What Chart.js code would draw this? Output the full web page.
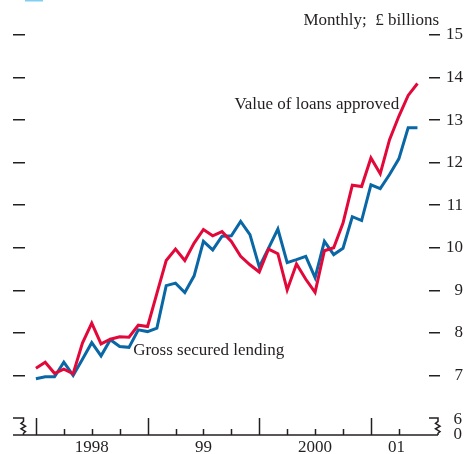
<!DOCTYPE html>
<html><head><meta charset="utf-8">
<script src="https://cdn.jsdelivr.net/npm/chart.js@4.4.1/dist/chart.umd.min.js"></script>
<style>html,body{margin:0;padding:0;background:#fff;}#wrap{width:467px;height:454px;}</style>
</head><body><div id="wrap"><canvas id="c" width="467" height="454"></canvas></div>
<script>
const months = [
 '1998-01','1998-02','1998-03','1998-04','1998-05','1998-06','1998-07','1998-08','1998-09','1998-10','1998-11','1998-12',
 '1999-01','1999-02','1999-03','1999-04','1999-05','1999-06','1999-07','1999-08','1999-09','1999-10','1999-11','1999-12',
 '2000-01','2000-02','2000-03','2000-04','2000-05','2000-06','2000-07','2000-08','2000-09','2000-10','2000-11','2000-12',
 '2001-01','2001-02','2001-03','2001-04','2001-05','2001-06'
];
const loansApproved = [7.17,7.31,7.05,7.15,7.04,7.76,8.23,7.74,7.85,7.91,7.90,8.18,
 8.15,8.93,9.70,9.97,9.70,10.11,10.43,10.28,10.38,10.15,9.80,9.60,
 9.43,9.97,9.86,9.01,9.62,9.26,8.95,9.93,10.00,10.58,11.47,11.44,
 12.11,11.74,12.54,13.09,13.58,13.86];
const grossLending = [6.92,6.97,6.97,7.31,7.00,7.38,7.77,7.46,7.84,7.68,7.66,8.07,
 8.03,8.11,9.11,9.17,8.95,9.34,10.15,9.95,10.27,10.28,10.62,10.31,
 9.55,9.99,10.44,9.65,9.72,9.80,9.30,10.15,9.84,9.99,10.73,10.64,
 11.48,11.39,11.72,12.09,12.82,12.82];
const yTickValues = [7,8,9,10,11,12,13,14,15];
const yearLabels = ['1998','99','2000','01'];
const yearStarts = [0,12,24,36];
const quarterTicks = [0,3,6,9,12,15,18,21,24,27,30,33,36,39];
const seriesNames = ['Value of loans approved','Gross secured lending'];
const unitLabel = 'Monthly;  \u00a3 billions';
const breakLabels = ['6','0'];

const FONT = "'Liberation Serif', 'Times New Roman', serif";
const INK = '#231f20';
const RED = '#e2083a';
const BLUE = '#0a67a6';

const decor = {
  id: 'decor',
  afterDraw(chart) {
    const ctx = chart.ctx, xs = chart.scales.x, ys = chart.scales.y, ca = chart.chartArea;
    const base = ys.getPixelForValue(ys.min);
    const six = ys.getPixelForValue(6);
    const left = chart.scales.yl.left, right = ca.right + 9;
    ctx.save();
    ctx.strokeStyle = INK; ctx.lineWidth = 1.5; ctx.lineJoin = 'miter';
    // axis line
    ctx.beginPath(); ctx.moveTo(left, base); ctx.lineTo(right, base); ctx.stroke();
    // quarter / year ticks
    quarterTicks.forEach(m => {
      const px = Math.round(xs.getPixelForValue(m)) + 0.5;
      const h = (m % 12 === 0) ? (base - six) : 6;
      ctx.beginPath(); ctx.moveTo(px, base); ctx.lineTo(px, base - h); ctx.stroke();
    });
    // axis breaks
    const zig = (x0, x1) => {
      ctx.beginPath();
      ctx.moveTo(x0, six); ctx.lineTo(x1, six);
      const h = base - six;
      ctx.lineTo(x1, six + h*0.2);
      ctx.lineTo(x1 - 2.5, six + h*0.32);
      ctx.lineTo(x1 + 2, six + h*0.48);
      ctx.lineTo(x1 - 2.5, six + h*0.64);
      ctx.lineTo(x1 + 2, six + h*0.8);
      ctx.lineTo(x1, six + h*0.9);
      ctx.lineTo(x1, base);
      ctx.stroke();
    };
    zig(left, left + 10.5);
    zig(ca.right, right);
    // text
    ctx.fillStyle = INK;
    ctx.font = '17px ' + FONT;
    ctx.textBaseline = 'middle';
    ctx.textAlign = 'right';
    ctx.fillText(breakLabels[0], 462, six + 2);
    ctx.fillText(breakLabels[1], 462, base);
    ctx.fillText(unitLabel, ca.right + 10, 20.5);
    ctx.textAlign = 'left';
    ctx.fillText(seriesNames[0], xs.getPixelForValue(21.33), ys.getPixelForValue(13.37));
    ctx.fillText(seriesNames[1], xs.getPixelForValue(10.45), ys.getPixelForValue(7.59));
    ctx.fillStyle = '#7fd0f0';
    ctx.fillRect(25, 0, 18, 1.5);
    ctx.restore();
  }
};

new Chart(document.getElementById('c'), {
  type: 'line',
  data: {
    datasets: [
      { label: seriesNames[0], data: months.map((m, i) => ({x: i, y: loansApproved[i]})),
        borderColor: RED, borderWidth: 3, pointRadius: 0, tension: 0, yAxisID: 'y' },
      { label: seriesNames[1], data: months.map((m, i) => ({x: i, y: grossLending[i]})),
        borderColor: BLUE, borderWidth: 3, pointRadius: 0, tension: 0, yAxisID: 'y' }
    ]
  },
  options: {
    responsive: false, animation: false, devicePixelRatio: 1,
    layout: { padding: { left: 13, right: 4, top: 35, bottom: 0 } },
    plugins: { legend: { display: false }, tooltip: { enabled: false } },
    scales: {
      x: {
        type: 'linear', position: 'bottom', min: -1.173, max: 42.24,
        afterBuildTicks: s => { s.ticks = yearStarts.map(st => ({ value: (st + Math.min(st + 12, months.length - 0.5)) / 2 })); },
        ticks: { callback: (v, i) => yearLabels[i], autoSkip: false, maxRotation: 0, padding: 2,
                 font: { family: FONT, size: 17 }, color: INK },
        grid: { display: false, drawTicks: false }, border: { display: false },
        afterFit: s => { s.height = 19; }
      },
      y: {
        position: 'right', min: 5.6, max: 15,
        afterBuildTicks: s => { s.ticks = yTickValues.map(v => ({ value: v })); },
        ticks: { padding: 3, crossAlign: 'far', font: { family: FONT, size: 17 }, color: INK, callback: v => String(v) },
        grid: { drawOnChartArea: false, tickLength: 11, color: INK, lineWidth: 1.5 }, border: { display: false }
      },
      yl: {
        position: 'left', min: 5.6, max: 15,
        afterBuildTicks: s => { s.ticks = yTickValues.map(v => ({ value: v })); },
        ticks: { display: false },
        grid: { drawOnChartArea: false, tickLength: 12, color: INK, lineWidth: 1.5 }, border: { display: false }
      }
    }
  },
  plugins: [decor]
});
</script></body></html>
